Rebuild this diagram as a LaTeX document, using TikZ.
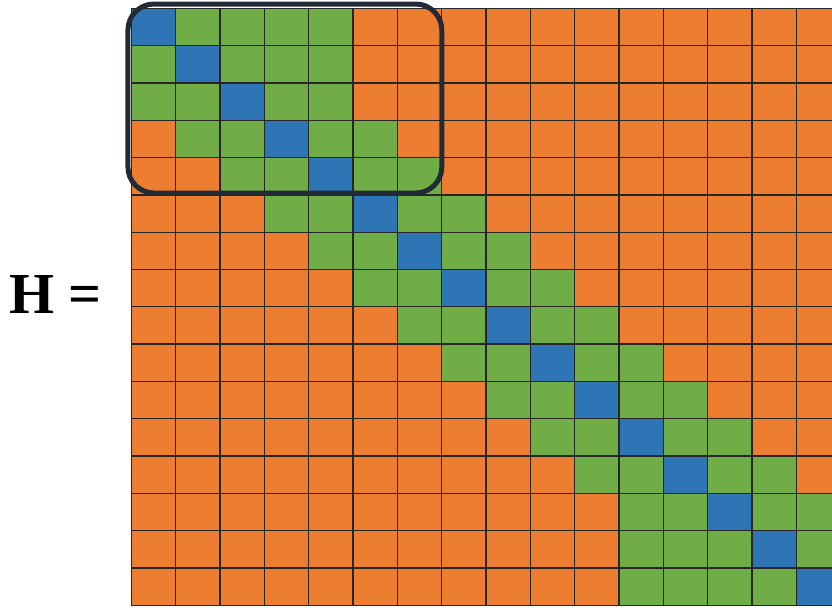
\documentclass[tikz,border=0pt]{standalone}
\usepackage{fontspec}
\setmainfont{Liberation Serif}
\usepackage{tikz}
\usepackage{xcolor}
\definecolor{hOrange}{HTML}{ED7D31}
\definecolor{hGreen}{HTML}{70AD47}
\definecolor{hBlue}{HTML}{2E75B6}
\definecolor{hFrame}{HTML}{222A35}

\begin{document}
\begin{tikzpicture}[x=44.33pt,y=-37.31pt,gridline/.style={line width=1.3pt,black!85}]
\clip (-2.966,-0.223) rectangle (15.802,16.127);
\fill[hOrange] (0,0) rectangle (16,16);
\foreach \r in {0,...,15} {
  \pgfmathtruncatemacro{\lo}{max(0,min(\r-2,11))}
  \pgfmathtruncatemacro{\hi}{min(15,max(\r+2,4))}
  \fill[hGreen] (\lo,\r) rectangle (\hi+1,\r+1);
  \fill[hBlue] (\r,\r) rectangle (\r+1,\r+1);
}
\foreach \i in {0,...,16} {\draw[gridline] (\i,0)--(\i,16);\draw[gridline] (0,\i)--(16,\i);}
\draw[line width=5pt,hFrame,rounded corners=26pt] (-0.08,-0.115) rectangle (7.0,4.95);
\node[anchor=base west,inner sep=0pt,font=\bfseries\fontsize{58}{60}\selectfont] (hlabel) at (-2.76,8.19) {H =};
\end{tikzpicture}
\end{document}
